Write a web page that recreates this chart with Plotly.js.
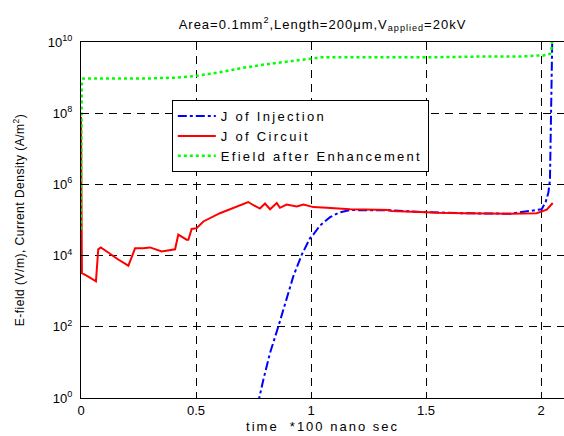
<!DOCTYPE html>
<html>
<head>
<meta charset="utf-8">
<script src="https://cdn.plot.ly/plotly-3.0.1.min.js"></script>
<style>
html,body{margin:0;padding:0;background:#fff;}
#chart{width:564px;height:436px;}
.gtitle{letter-spacing:1px;}
.xtitle{letter-spacing:2px;}
.ytitle{letter-spacing:0.5px;}
.legendtext{letter-spacing:2.3px;}
</style>
</head>
<body>
<div id="chart"></div>
<script>
// time (*100 ns)
var injX = [0.77, 0.775, 0.793, 0.822, 0.858, 0.887, 0.923, 0.96, 0.996, 1.01, 1.04, 1.083, 1.12, 1.17, 1.343, 1.503, 1.662, 1.865, 1.952, 2.003, 2.02, 2.032, 2.039, 2.042, 2.046, 2.05];
var injY = [0.63, 1, 3.3, 18.6, 102, 468, 2.6e3, 1.07e4, 3.1e4, 3.9e4, 7.1e4, 1.2e5, 1.6e5, 1.9e5, 1.86e5, 1.66e5, 1.55e5, 1.5e5, 1.8e5, 2.0e5, 3.2e5, 5.8e5, 1.35e6, 3.4e7, 2.6e9, 3e10];

var circX = [0, 0.002, 0.004, 0.03, 0.053, 0.065, 0.075, 0.086, 0.12, 0.16, 0.206, 0.22, 0.235, 0.27, 0.30, 0.351, 0.387, 0.409, 0.423, 0.459, 0.467, 0.481, 0.503, 0.532, 0.604, 0.677, 0.727, 0.75, 0.778, 0.80, 0.822, 0.851, 0.865, 0.894, 0.938, 0.967, 1.01, 1.068, 1.17, 1.343, 1.35, 1.503, 1.55, 1.662, 1.865, 1.981, 2.025, 2.051];
var circY = [7.9e7, 1.0e5, 3.2e3, 2.6e3, 2.1e3, 1.9e3, 1.5e4, 1.7e4, 1.2e4, 7.9e3, 5.2e3, 8.9e3, 1.6e4, 1.6e4, 1.7e4, 1.3e4, 1.4e4, 1.5e4, 3.9e4, 2.8e4, 2.8e4, 5.6e4, 5.9e4, 9.1e4, 1.55e5, 2.4e5, 3.2e5, 2.6e5, 2.1e5, 2.9e5, 2.0e5, 3.0e5, 2.2e5, 2.7e5, 2.4e5, 2.7e5, 2.3e5, 2.2e5, 2.0e5, 1.9e5, 1.8e5, 1.66e5, 1.6e5, 1.55e5, 1.5e5, 1.55e5, 1.95e5, 3.0e5];

var efX = [0, 0.003, 0.01, 0.1, 0.3, 0.42, 0.5, 0.6, 0.7, 0.8, 0.9, 0.952, 1.0, 1.039, 1.2, 1.503, 1.735, 1.909, 1.996, 2.01, 2.039, 2.045, 2.05];
var efY = [5.4e4, 6.3e8, 9.5e8, 9.5e8, 9.5e8, 1e9, 1.12e9, 1.4e9, 1.86e9, 2.35e9, 2.8e9, 3.0e9, 3.4e9, 3.7e9, 3.7e9, 3.7e9, 3.9e9, 3.9e9, 4.2e9, 4.2e9, 4.6e9, 6.3e9, 1.26e10];

var xTicks = [0, 0.5, 1, 1.5, 2];
var xTickText = ['0', '0.5', '1', '1.5', '2'];
var yTicks = [1, 1e2, 1e4, 1e6, 1e8, 1e10];
var yTickText = ['10<sup>0</sup>', '10<sup>2</sup>', '10<sup>4</sup>', '10<sup>6</sup>', '10<sup>8</sup>', '10<sup>10</sup>'];

var names = ['J of Injection', 'J of Circuit', 'Efield after Enhancement'];

var font = 'Liberation Sans, Arial, sans-serif';

var traces = [
  {x: injX, y: injY, name: names[0], type: 'scatter', mode: 'lines',
   line: {color: '#0000ff', width: 2, dash: 'dashdot'}},
  {x: circX, y: circY, name: names[1], type: 'scatter', mode: 'lines',
   line: {color: '#ff0000', width: 2}},
  {x: efX, y: efY, name: names[2], type: 'scatter', mode: 'lines',
   line: {color: '#00ff00', width: 2.5, dash: 'dot'}}
];

var layout = {
  width: 564, height: 436,
  margin: {l: 81, r: 0, t: 42, b: 38},
  paper_bgcolor: '#ffffff', plot_bgcolor: '#ffffff',
  font: {family: font, size: 12, color: '#000'},
  title: {text: 'Area=0.1mm<sup>2</sup>,Length=200\u03bcm,V<sub>applied</sub>=20kV',
          x: 0.5, xref: 'paper', y: 0.955, yref: 'container', font: {family: font, size: 13, color: '#000'}},
  xaxis: {
    range: [0, 2.1], tickvals: xTicks, ticktext: xTickText,
    showgrid: true, gridcolor: '#000', griddash: '8px,6px', gridwidth: 1,
    zeroline: false, showline: true, linecolor: '#000', linewidth: 1, mirror: 'ticks',
    ticks: 'inside', ticklen: 5, tickcolor: '#000',
    tickfont: {family: font, size: 13},
    title: {text: 'time  *100 nano sec', font: {family: font, size: 13}, standoff: 5}
  },
  yaxis: {
    type: 'log', range: [0, 10], tickvals: yTicks, ticktext: yTickText,
    showgrid: true, gridcolor: '#000', griddash: '8px,6px', gridwidth: 1,
    zeroline: false, showline: true, linecolor: '#000', linewidth: 1, mirror: 'ticks',
    ticks: 'inside', ticklen: 5, tickcolor: '#000',
    tickfont: {family: font, size: 13}, ticklabelstandoff: 5,
    title: {text: 'E-field (V/m), Current Density (A/m<sup>2</sup>)', font: {family: font, size: 12}, standoff: 20}
  },
  showlegend: true,
  legend: {
    x: 0.188, y: 0.837, xanchor: 'left', yanchor: 'top',
    bgcolor: '#ffffff', bordercolor: '#000', borderwidth: 1,
    font: {family: font, size: 13, color: '#000'},
    itemwidth: 38, tracegroupgap: 0
  }
};

Plotly.newPlot('chart', traces, layout, {displayModeBar: false, staticPlot: true});
</script>
</body>
</html>
